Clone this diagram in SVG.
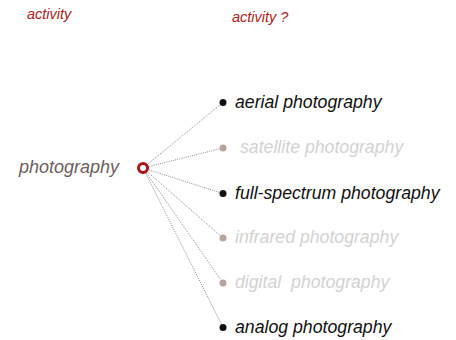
<svg xmlns="http://www.w3.org/2000/svg" width="456" height="340" viewBox="0 0 456 340">
<style>
text{font-family:"Liberation Sans",Arial,sans-serif;font-style:italic}
.hdr{font-size:14.5px;fill:#b01c1c}
.lbl{font-size:17.7px}
.on{fill:#111}
.off{fill:#d2d2d2}
.don{fill:#111}
.doff{fill:#b9a39d}
.con{stroke:#8a8a8a;stroke-width:1;stroke-dasharray:1 1.2;fill:none}
</style>
<rect width="456" height="340" fill="#fff"/>
<g id="headers">
<text class="hdr" x="27" y="19">activity</text>
<text class="hdr" x="232" y="22">activity ?</text>
</g>
<g id="connectors">
<line class="con" x1="143" y1="168" x2="223" y2="102.5"/>
<line class="con" x1="143" y1="168" x2="223" y2="148"/>
<line class="con" x1="143" y1="168" x2="223" y2="193.5"/>
<line class="con" x1="143" y1="168" x2="223" y2="238"/>
<line class="con" x1="143" y1="168" x2="223" y2="283"/>
<line class="con" x1="143" y1="168" x2="223" y2="327.5"/>
</g>
<g id="photography">
<text x="19" y="173" font-size="18" fill="#6e5e5e">photography</text>
<circle cx="143" cy="168" r="4.5" fill="#fff" stroke="#a81515" stroke-width="3"/>
</g>
<g id="aerial">
<circle class="don" cx="223" cy="102.5" r="3.5"/>
<text class="lbl on" x="235" y="107.5">aerial photography</text>
</g>
<g id="satellite">
<circle class="doff" cx="223" cy="148" r="3.5"/>
<text class="lbl off" x="240" y="153">satellite photography</text>
</g>
<g id="fullspectrum">
<circle class="don" cx="223" cy="193.5" r="3.5"/>
<text class="lbl on" x="235" y="198.5">full-spectrum photography</text>
</g>
<g id="infrared">
<circle class="doff" cx="223" cy="238" r="3.5"/>
<text class="lbl off" x="235" y="243">infrared photography</text>
</g>
<g id="digital">
<circle class="doff" cx="223" cy="283" r="3.5"/>
<text class="lbl off" x="235" y="288" xml:space="preserve">digital  photography</text>
</g>
<g id="analog">
<circle class="don" cx="223" cy="327.5" r="3.5"/>
<text class="lbl on" x="235" y="332.5">analog photography</text>
</g>
</svg>
